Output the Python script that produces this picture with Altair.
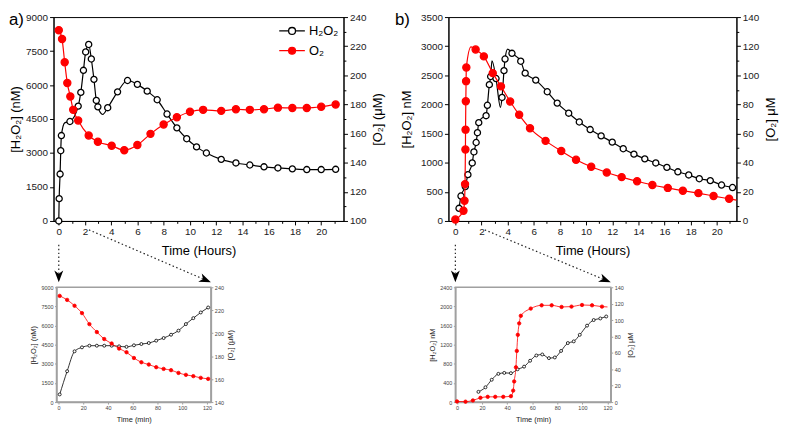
import math
import altair as alt
import pandas as pd

FONT = "Liberation Sans"
RED = "#ff0000"
H2 = "H₂O₂"
O2 = "O₂"

# ---------------- data ----------------
# panel a) hours / nM  (open circles)
a_h2o2_t = [0, 0.03, 0.1, 0.15, 0.2, 0.85, 1.48, 1.68, 1.88, 2.05, 2.28, 2.48, 2.68, 2.86, 2.98,
            3.73, 4.48, 5.24, 5.99, 6.74, 7.5, 8.25, 9.0, 9.75, 10.5, 11.25, 12.38, 13.5, 14.56,
            15.64, 16.7, 17.8, 18.9, 20.0, 21.1]
a_h2o2_v = [0, 985, 2070, 3100, 3770, 4390, 5070, 5675, 6650, 7460, 7790, 7150, 6250, 5320, 5040,
            5000, 5700, 6200, 6030, 5730, 5350, 4720, 4110, 3630, 3270, 3000, 2720, 2560, 2470,
            2390, 2340, 2300, 2270, 2270, 2280]
a_h2o2_line_t = [0.45, 3.35]
a_h2o2_line_v = [4330, 4700]
# panel a) hours / µM (filled)
a_o2_t = [0, 0.25, 0.45, 0.65, 0.88, 1.1, 1.48, 2.28, 2.98, 4.03, 4.99, 5.99, 6.99, 7.99, 9.0,
          10.0, 11.0, 12.38, 13.5, 14.56, 15.64, 16.7, 17.8, 18.9, 20.0, 21.1]
a_o2_v = [231, 224.9, 209, 194.7, 185.5, 176.3, 169, 158.7, 154.4, 151.7, 148.6, 152.1, 159.8,
          166.2, 171.2, 175, 176.3, 175.6, 176.7, 176.3, 176.7, 177.8, 177.6, 177.6, 178.4, 180]

# panel b)
b_h2o2_t = [0.28, 0.43, 0.76, 0.96, 1.29, 1.42, 1.59, 1.69, 1.79, 2.35, 2.45, 2.6, 2.7, 3.11, 3.57,
            3.72, 3.8, 4.33, 5.0, 5.34, 6.15, 7.03, 7.79, 8.67, 9.48, 10.31, 11.15, 12.0, 12.84,
            13.66, 14.49, 15.33, 16.18, 17.02, 17.85, 18.66, 19.5, 20.36, 21.2]
b_h2o2_v = [217, 428, 590, 795, 996, 1185, 1347, 1515, 1688, 1807, 1986, 2340, 2480, 2445, 2120,
            2580, 2780, 2878, 2742, 2537, 2418, 2218, 2023, 1850, 1699, 1569, 1460, 1353, 1240,
            1147, 1066, 996, 920, 844, 790, 725, 693, 617, 574]
b_h2o2_line_t = [2.0, 2.8, 3.45, 4.0]
b_h2o2_line_v = [1760, 2750, 1950, 2950]
b_o2_t = [0, 0.62, 0.7, 0.74, 0.77, 0.78, 0.8, 0.82, 0.84, 1.55, 2.18, 2.86, 3.49, 4.19, 4.88,
          5.71, 6.9, 8.1, 9.23, 10.39, 11.58, 12.72, 13.9, 15.07, 16.25, 17.4, 18.59, 19.75, 20.94]
b_o2_v = [1, 7, 13.9, 25.3, 49.1, 62.7, 82.2, 96, 105.4, 117.7, 113, 101.5, 92.4, 82, 72.9,
          63.6, 55, 48, 42, 37.2, 33.3, 30.1, 27.3, 24.7, 22.7, 20.8, 19.1, 17.1, 15.2]
b_o2_line_t = [1.2, 21.5]
b_o2_line_v = [119.5, 14.3]

# inset a) minutes
ia_t = [1, 7, 13, 19, 25, 31, 37, 43, 49, 55, 61, 67, 73, 79, 85, 91, 97, 103, 109, 115, 121]
ia_h2o2_v = [600, 2420, 3980, 4290, 4420, 4420, 4420, 4420, 4370, 4330, 4450, 4550, 4630, 4815,
             5020, 5280, 5600, 6115, 6580, 7025, 7415]
ia_o2_v = [232.5, 229, 223.9, 217.5, 207.9, 201, 194.9, 191, 186.6, 183.4, 178.4, 174.7, 172.7,
           170.4, 168.9, 167.8, 165.4, 163.7, 162.6, 161.1, 160.2]

# inset b) minutes
ib_h2o2_t = [17.1, 22.7, 27.7, 33, 37.7, 43, 48.3, 53.5, 58.3, 63.3, 68, 73.3, 78, 83, 88.4,
             93.1, 97.9, 103.7, 109, 114.3, 119]
ib_h2o2_v = [214, 309, 467, 590, 610, 604, 686, 741, 864, 974, 995, 919, 933, 1069, 1234, 1269,
             1406, 1598, 1715, 1748, 1789]
ib_o2_t = [0, 6.8, 12.7, 18.7, 24.5, 30.5, 36.9, 43, 44.8, 45.6, 47, 47.7, 48.5, 49.6, 50.9,
           58.8, 67.5, 75.5, 83.4, 91.3, 99.7, 107.7, 115.6]
ib_o2_v = [0.8, 0.5, 2, 5.2, 6.4, 6.4, 6.4, 7.2, 14, 25.2, 42.4, 62.4, 82, 96, 105.2, 114, 118,
           118, 116, 116.4, 118.4, 118, 116.4]
ib_o2_line_t = [120]
ib_o2_line_v = [116]

# tick values
x_hours = list(range(0, 22))
x_min = list(range(0, 121, 20))
a_left_ticks = list(range(0, 9001, 1500))
a_right_ticks = list(range(100, 241, 10))
b_left_ticks = list(range(0, 3501, 500))
b_right_ticks = list(range(0, 141, 10))
ia_left_ticks = list(range(0, 9001, 1500))
ia_right_ticks = list(range(140, 241, 20))
ib_left_ticks = list(range(0, 2401, 400))
ib_right_ticks = list(range(0, 141, 20))

# ---------------- layout ----------------
WA, WB, HM = 293, 291, 206
GAP_X, GAP_Y = 106, 67
WIA, WIB, HI = 156, 157, 116
SHIFT_IA, SHIFT_IB = 3, 7
XDOM_A = [-0.4, 21.7]
XDOM_B = [-0.53, 21.5]
XDOM_IA = [-1.6, 123.2]
XDOM_IB = [-1.3, 122.6]

MAIN = dict(lfs=10, tfs=13, lc="#1a1a1a", tc="black", ac="black", dw=1, tw=1, ts=4,
            lp=2, tp=3, tpx=8, tpr=6, lw=1.2, pw=1.3, hs=38, os=52)
INSET = dict(lfs=5.5, tfs=7.5, lc="#444444", tc="#222222", ac="#a0a0a0", dw=1.5, tw=1, ts=2,
             lp=1.5, tp=3, tpx=4.5, tpr=3, lw=0.8, pw=0.8, hs=9, os=12)

stroke_scale = alt.Scale(domain=[H2, O2], range=["black", RED])
fill_scale = alt.Scale(domain=[H2, O2], range=["white", RED])


def pts(t, v, s):
    return pd.DataFrame({"t": t, "v": v, "series": s})


def line(t, v, s, et=(), ev=()):
    d = pd.DataFrame({"t": list(t) + list(et), "v": list(v) + list(ev)})
    d = d.sort_values("t").reset_index(drop=True)
    d["series"] = s
    return d


def axis(orient, title, values, st, minor_mod=None, tp=None):
    if tp is None:
        tp = {"bottom": st["tpx"], "right": st["tpr"]}.get(orient, st["tp"])
    kw = dict(orient=orient, title=title, values=values, tickCount=100, format="d", grid=False,
              labelFont=FONT, titleFont=FONT, labelFontSize=st["lfs"], titleFontSize=st["tfs"],
              titleFontWeight="normal", labelColor=st["lc"], titleColor=st["tc"],
              domainColor=st["ac"], tickColor=st["ac"], domainWidth=st["dw"],
              tickWidth=st["tw"], tickSize=st["ts"], labelPadding=st["lp"],
              titlePadding=tp, labelFlush=False, labelOverlap=False)
    if minor_mod:
        kw["labelExpr"] = f"datum.value % {minor_mod} == 0 ? datum.label : ''"
        kw["tickSize"] = {"condition": {"test": f"datum.value % {minor_mod} != 0",
                                        "value": st["ts"] * 0.6},
                          "value": st["ts"]}
    if orient == "right":
        kw["titleAngle"] = 270
        kw["titleBaseline"] = "top"
    return alt.Axis(**kw)


def series(ldf, pdf, xenc, yenc, color, fill, size, st, legend):
    if legend is None:
        ln = alt.Chart(ldf).mark_line(interpolate="monotone", strokeWidth=st["lw"],
                                      color=color).encode(x=xenc, y=yenc)
        pt = alt.Chart(pdf).mark_point(filled=True, size=size, strokeWidth=st["pw"], fill=fill,
                                       stroke=color, opacity=1).encode(x=xenc, y=yenc)
    else:
        sk = alt.Stroke("series:N", scale=stroke_scale, legend=legend)
        fl = alt.Fill("series:N", scale=fill_scale, legend=legend)
        ln = alt.Chart(ldf).mark_line(interpolate="monotone",
                                      strokeWidth=st["lw"]).encode(x=xenc, y=yenc, stroke=sk)
        pt = alt.Chart(pdf).mark_point(filled=True, size=size, strokeWidth=st["pw"],
                                       opacity=1).encode(x=xenc, y=yenc, stroke=sk, fill=fl)
    return alt.layer(ln, pt)


def panel(hl, hp, ol, op, xdom, xax, yldom, ylax, yrdom, yrax, W, H, st, view,
          legend=None, extra=()):
    xenc = alt.X("t:Q", scale=alt.Scale(domain=xdom, nice=False, zero=False), axis=xax)
    yl = alt.Y("v:Q", scale=alt.Scale(domain=yldom, nice=False, zero=False), axis=ylax)
    yr = alt.Y("v:Q", scale=alt.Scale(domain=yrdom, nice=False, zero=False), axis=yrax)
    left = series(hl, hp, xenc, yl, "black", "white", st["hs"], st, legend)
    right = series(ol, op, xenc, yr, RED, RED, st["os"], st, legend)
    return alt.layer(left, right, *extra).resolve_scale(y="independent").properties(
        width=W, height=H, view=view)


# ---------------- annotations (arrows, panel letters) ----------------
ARROW = "M1,0L-1,-0.75L-0.45,0L-1,0.75Z"
ARROW_SIZE = 144  # half length = 6 px
one = pd.DataFrame({"k": [0]})


def px(v, dom, W):
    return (v - dom[0]) / (dom[1] - dom[0]) * W


def arrows(dom, W, t_diag, end_x):
    dash = dict(strokeDash=[1.5, 2.5], strokeWidth=1.2, color="#222222")
    tip_y = HM + GAP_Y - 5
    vrule = alt.Chart(one).mark_rule(**dash).encode(
        x=alt.datum(0), y=alt.value(HM + 24), y2=alt.value(tip_y - 9))
    vhead = alt.Chart(one).mark_point(shape=ARROW, filled=True, size=ARROW_SIZE, opacity=1,
                                      color="black", angle=90).encode(
        x=alt.datum(0), y=alt.value(tip_y - 6))
    sx, sy = px(t_diag, dom, W), HM + 9
    dx, dy = end_x - sx, tip_y - sy
    L = math.hypot(dx, dy)
    ux, uy = dx / L, dy / L
    ang = math.degrees(math.atan2(dy, dx))
    drule = alt.Chart(one).mark_rule(**dash).encode(
        x=alt.datum(t_diag), y=alt.value(sy),
        x2=alt.value(end_x - 9 * ux), y2=alt.value(tip_y - 9 * uy))
    dhead = alt.Chart(one).mark_point(shape=ARROW, filled=True, size=ARROW_SIZE, opacity=1,
                                      color="black", angle=ang).encode(
        x=alt.value(end_x - 6 * ux), y=alt.value(tip_y - 6 * uy))
    return [vrule, vhead, drule, dhead]


def letter(txt, dx):
    return alt.Chart(pd.DataFrame({"lab": [txt]})).mark_text(
        align="left", baseline="middle", fontSize=17, font=FONT, color="black").encode(
        x=alt.value(dx), y=alt.value(3), text="lab:N")


def spacer():
    return alt.Chart(one).mark_point(opacity=0).encode(
        x=alt.value(0), y=alt.value(0)).properties(width=1, height=1)


LEG_SYM = ("M-1.6,0H-0.43M0.43,0H1.6M-0.43,0A0.43,0.43 0 1 1 0.43,0"
           "A0.43,0.43 0 1 1 -0.43,0Z")
legend = alt.Legend(orient="none", legendX=232, legendY=5, title=None, symbolType=LEG_SYM,
                    symbolSize=262, symbolStrokeWidth=1.3, labelFont=FONT, labelFontSize=13,
                    labelColor="black", labelOffset=8, rowPadding=4, padding=0,
                    symbolOpacity=1)

main_view = alt.ViewBackground(stroke="black", strokeWidth=1)
inset_view = alt.ViewBackground(stroke="#a0a0a0", strokeWidth=1.5)

pa = panel(line(a_h2o2_t, a_h2o2_v, H2, a_h2o2_line_t, a_h2o2_line_v), pts(a_h2o2_t, a_h2o2_v, H2),
           line(a_o2_t, a_o2_v, O2), pts(a_o2_t, a_o2_v, O2),
           XDOM_A, axis("bottom", "Time (Hours)", x_hours, MAIN, 2),
           [0, 9000], axis("left", "[H₂O₂] (nM)", a_left_ticks, MAIN),
           [100, 240], axis("right", "[O₂] (μM)", a_right_ticks, MAIN, 20),
           WA, HM, MAIN, main_view, legend=legend,
           extra=arrows(XDOM_A, WA, 2.3, SHIFT_IA + WIA) + [letter("a)", -45)])

pb = panel(line(b_h2o2_t, b_h2o2_v, H2, b_h2o2_line_t, b_h2o2_line_v), pts(b_h2o2_t, b_h2o2_v, H2),
           line(b_o2_t, b_o2_v, O2, b_o2_line_t, b_o2_line_v), pts(b_o2_t, b_o2_v, O2),
           XDOM_B, axis("bottom", "Time (Hours)", x_hours, MAIN, 2),
           [0, 3500], axis("left", "[H₂O₂] nM", b_left_ticks, MAIN, tp=7),
           [0, 140], axis("right", "[O₂] μM", b_right_ticks, MAIN, 20),
           WB, HM, MAIN, main_view,
           extra=arrows(XDOM_B, WB, 2.25, SHIFT_IB + WIB) + [letter("b)", -54)])

ia = panel(line(ia_t, ia_h2o2_v, H2), pts(ia_t, ia_h2o2_v, H2),
           line(ia_t, ia_o2_v, O2), pts(ia_t, ia_o2_v, O2),
           XDOM_IA, axis("bottom", "Time (min)", x_min, INSET),
           [0, 9000], axis("left", "[H₂O₂] (nM)", ia_left_ticks, INSET),
           [140, 240], axis("right", "[O₂] (μM)", ia_right_ticks, INSET),
           WIA, HI, INSET, inset_view)

ib = panel(line(ib_h2o2_t, ib_h2o2_v, H2), pts(ib_h2o2_t, ib_h2o2_v, H2),
           line(ib_o2_t, ib_o2_v, O2, ib_o2_line_t, ib_o2_line_v), pts(ib_o2_t, ib_o2_v, O2),
           XDOM_IB, axis("bottom", "Time (min)", x_min, INSET),
           [0, 2400], axis("left", "[H₂O₂] nM", ib_left_ticks, INSET),
           [0, 140], axis("right", "[O₂] μM", ib_right_ticks, INSET),
           WIB, HI, INSET, inset_view)

ia_cell = alt.hconcat(spacer(), ia, spacing=SHIFT_IA - 1, bounds="flush")
ib_cell = alt.hconcat(spacer(), ib, spacing=SHIFT_IB - 1, bounds="flush")

chart = alt.concat(pa, pb, ia_cell, ib_cell, columns=2, bounds="flush",
                   spacing={"row": GAP_Y, "column": GAP_X}).resolve_scale(
    stroke="independent", fill="independent").properties(padding=0).configure(
    font=FONT).configure_view(stroke=None)

chart.save("out.html", embed_options={"renderer": "svg", "actions": False})
